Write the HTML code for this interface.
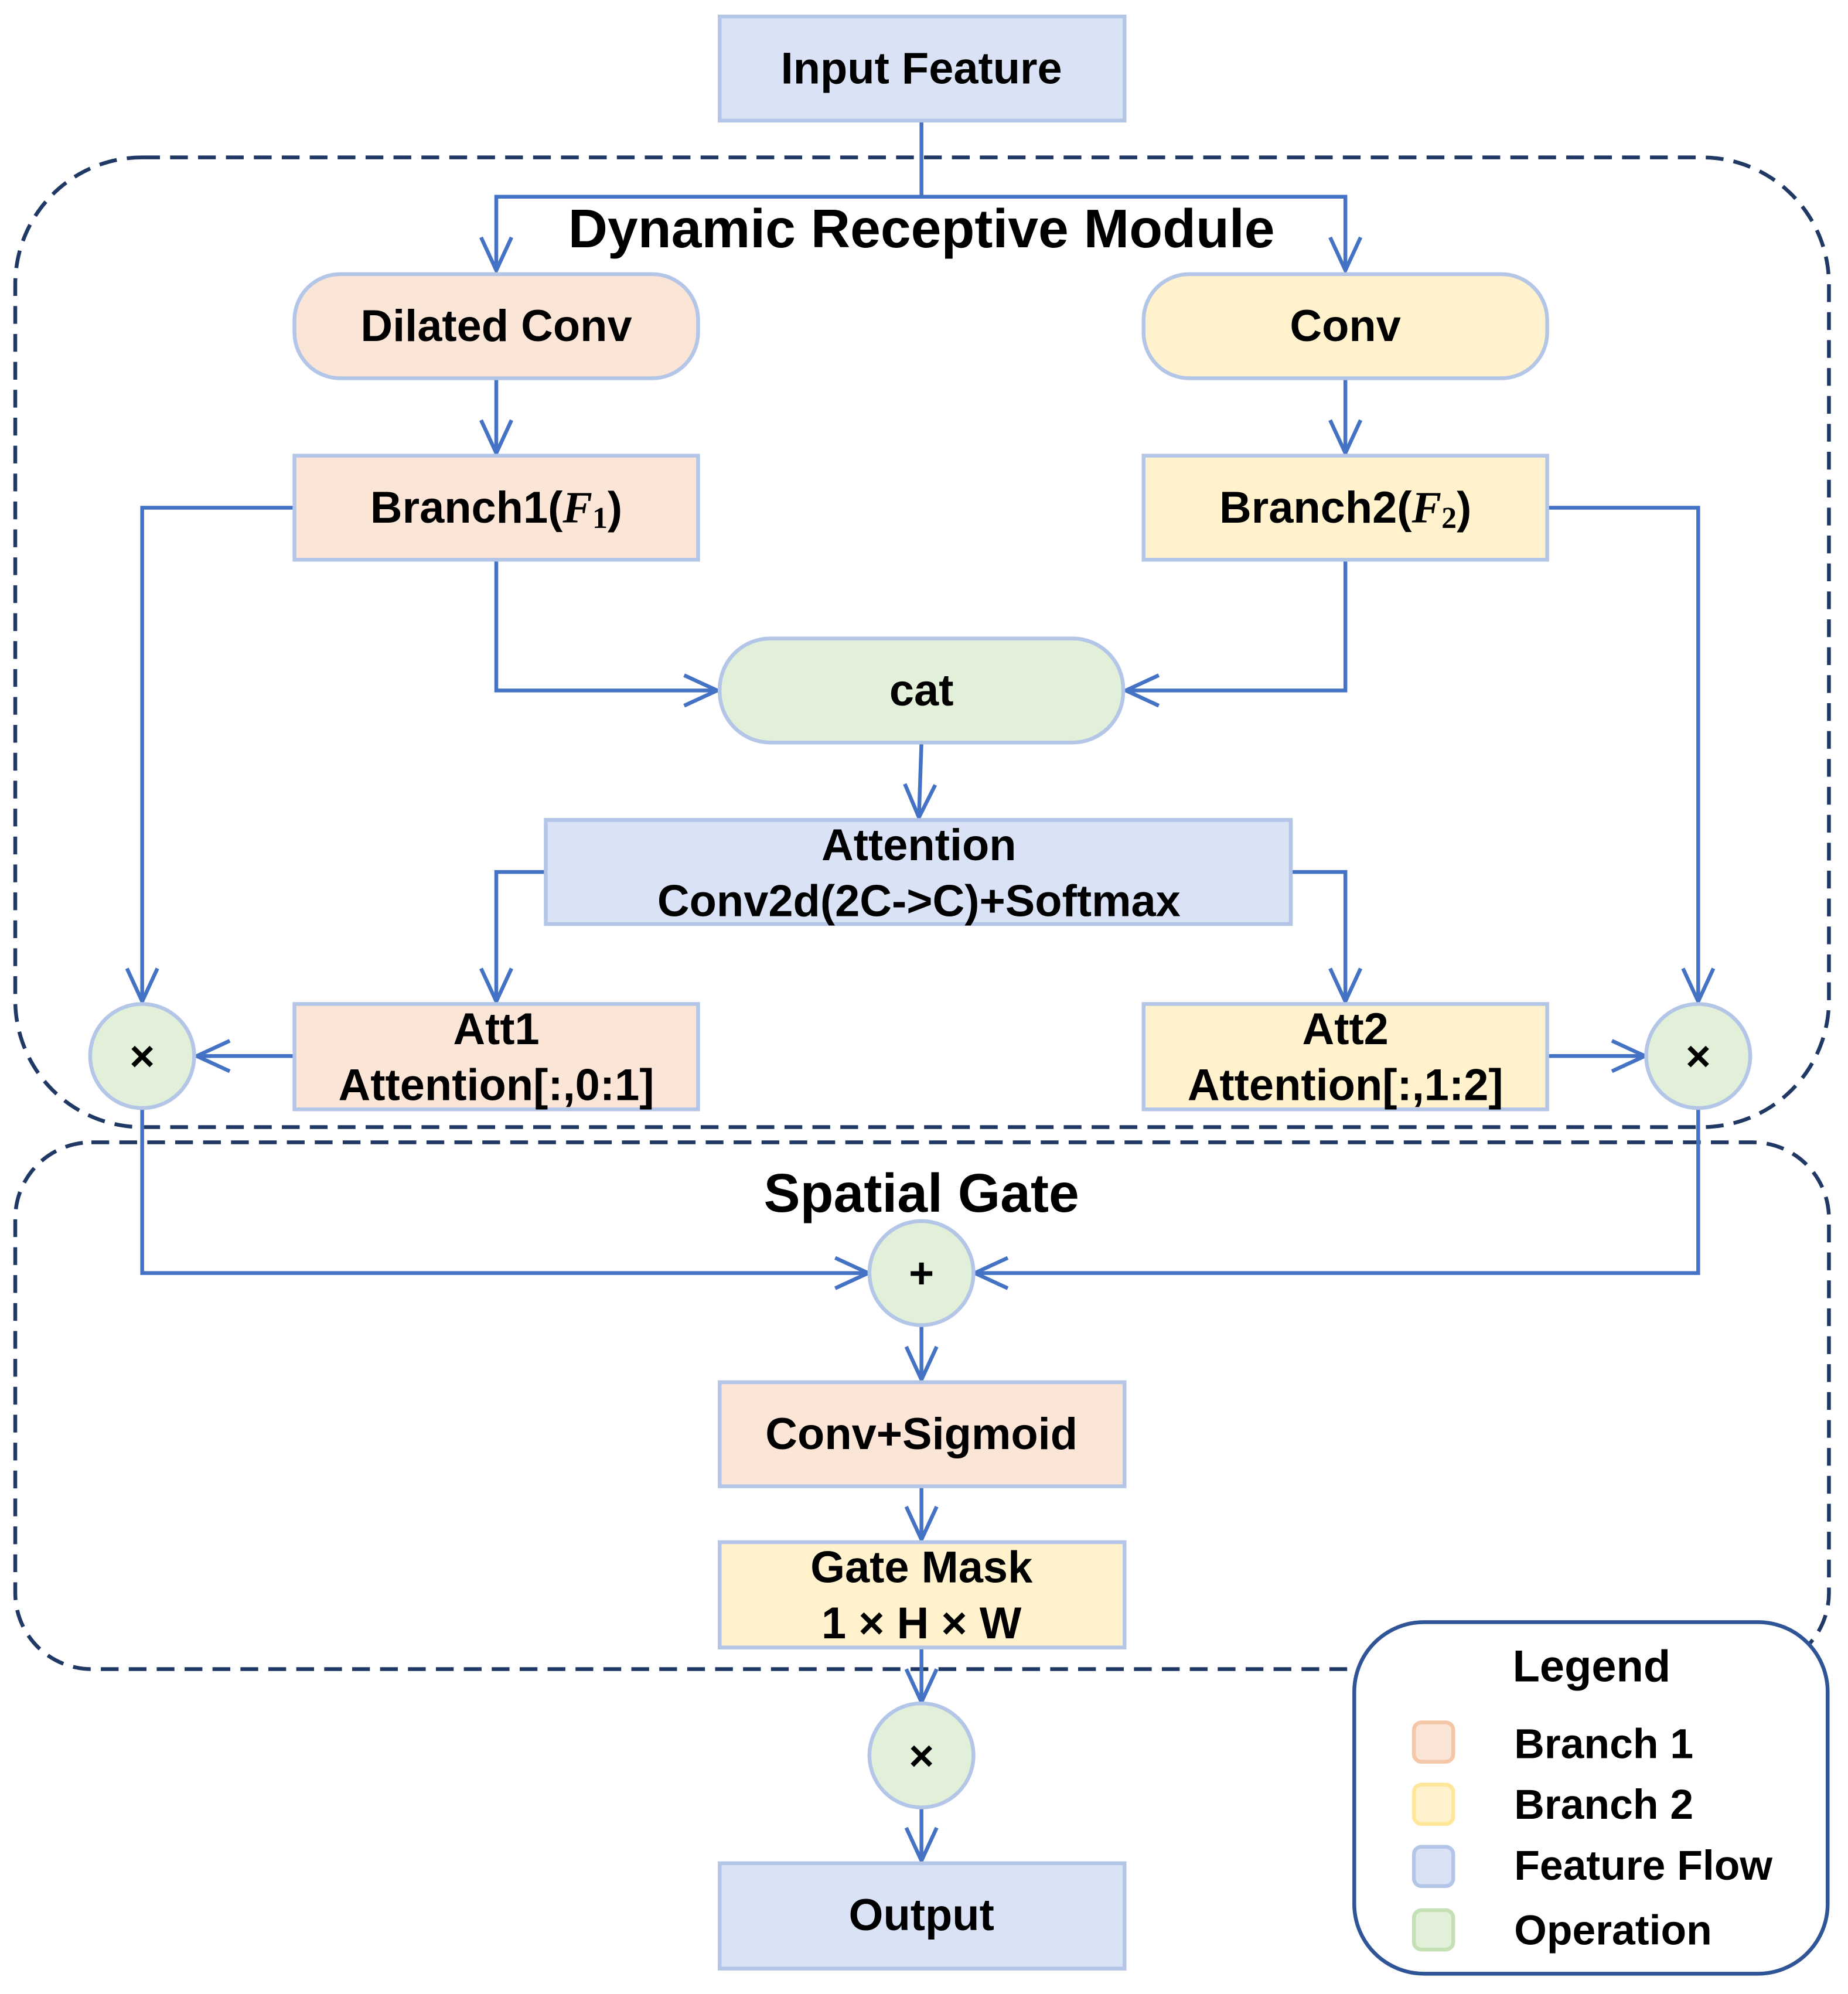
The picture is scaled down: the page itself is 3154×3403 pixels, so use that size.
<!DOCTYPE html>
<html><head><meta charset="utf-8"><style>
html,body{margin:0;padding:0;background:#fff}
svg{display:block}
text{font-family:"Liberation Sans",sans-serif;font-weight:bold;fill:#000;dominant-baseline:central}
.c{text-anchor:middle}
.s{text-anchor:start}
.b{stroke-width:3}
.l{fill:none;stroke:#4472c4;stroke-width:3}
</style></head><body>
<svg width="3154" height="3403" viewBox="0 0 1456 1571" xmlns="http://www.w3.org/2000/svg">
<defs>
<marker id="a" viewBox="0 0 30 30" refX="28" refY="15" markerWidth="30" markerHeight="30" markerUnits="userSpaceOnUse" orient="auto">
<path d="M2,3 L28,15 L2,27" fill="none" stroke="#4472c4" stroke-width="3"/>
</marker>
</defs>
<rect x="12" y="124" width="1429" height="764" rx="100" fill="none" stroke="#1f3864" stroke-width="3" stroke-dasharray="14,8"/>
<rect x="12" y="900" width="1429" height="415" rx="60" fill="none" stroke="#1f3864" stroke-width="3" stroke-dasharray="14,8"/>

<g class="l">
<path d="M726,95 V155 H391 V213" marker-end="url(#a)"/>
<path d="M726,155 H1060 V213" marker-end="url(#a)"/>
<path d="M391,298 V357" marker-end="url(#a)"/>
<path d="M1060,298 V357" marker-end="url(#a)"/>
<path d="M391,441 V544 H565" marker-end="url(#a)"/>
<path d="M1060,441 V544 H887" marker-end="url(#a)"/>
<path d="M726,585 L724,644" marker-end="url(#a)"/>
<path d="M430,687 H391 V789" marker-end="url(#a)"/>
<path d="M1017,687 H1060 V789" marker-end="url(#a)"/>
<path d="M232,400 H112 V789" marker-end="url(#a)"/>
<path d="M1219,400 H1338 V789" marker-end="url(#a)"/>
<path d="M232,832 H155" marker-end="url(#a)"/>
<path d="M1219,832 H1296" marker-end="url(#a)"/>
<path d="M112,873 V1003 H684" marker-end="url(#a)"/>
<path d="M1338,873 V1003 H768" marker-end="url(#a)"/>
<path d="M726,1044 V1087" marker-end="url(#a)"/>
<path d="M726,1171 V1213" marker-end="url(#a)"/>
<path d="M726,1298 V1341" marker-end="url(#a)"/>
<path d="M726,1424 V1466" marker-end="url(#a)"/>
</g>

<g class="b">
<rect x="567" y="13" width="319" height="82" fill="#dae3f5" stroke="#b4c6e7"/>
<rect x="232" y="216" width="318" height="82" rx="36" fill="#fbe5d6" stroke="#b4c6e7"/>
<rect x="901" y="216" width="318" height="82" rx="36" fill="#fff2cc" stroke="#b4c6e7"/>
<rect x="232" y="359" width="318" height="82" fill="#fbe5d6" stroke="#b4c6e7"/>
<rect x="901" y="359" width="318" height="82" fill="#fff2cc" stroke="#b4c6e7"/>
<rect x="567" y="503" width="318" height="82" rx="40" fill="#e2f0d9" stroke="#b4c6e7"/>
<rect x="430" y="646" width="587" height="82" fill="#dae3f5" stroke="#b4c6e7"/>
<rect x="232" y="791" width="318" height="83" fill="#fbe5d6" stroke="#b4c6e7"/>
<rect x="901" y="791" width="318" height="83" fill="#fff2cc" stroke="#b4c6e7"/>
<circle cx="112" cy="832" r="41" fill="#e2f0d9" stroke="#b4c6e7"/>
<circle cx="1338" cy="832" r="41" fill="#e2f0d9" stroke="#b4c6e7"/>
<circle cx="726" cy="1003" r="41" fill="#e2f0d9" stroke="#b4c6e7"/>
<rect x="567" y="1089" width="319" height="82" fill="#fbe5d6" stroke="#b4c6e7"/>
<rect x="567" y="1215" width="319" height="83" fill="#fff2cc" stroke="#b4c6e7"/>
<circle cx="726" cy="1383" r="41" fill="#e2f0d9" stroke="#b4c6e7"/>
<rect x="567" y="1468" width="319" height="83" fill="#dae3f5" stroke="#b4c6e7"/>
</g>

<g font-size="35" class="c">
<text class="c" x="726" y="54">Input Feature</text>
<text class="c" x="726" y="180" font-size="43">Dynamic Receptive Module</text>
<text class="c" x="391" y="257">Dilated Conv</text>
<text class="c" x="1060" y="257">Conv</text>
<text class="c" x="391" y="400">Branch1(<tspan font-family="Liberation Serif,serif" font-style="italic">F</tspan><tspan font-family="Liberation Serif,serif" font-size="24" dy="8">1</tspan><tspan dy="-8">)</tspan></text>
<text class="c" x="1060" y="400">Branch2(<tspan font-family="Liberation Serif,serif" font-style="italic">F</tspan><tspan font-family="Liberation Serif,serif" font-size="24" dy="8">2</tspan><tspan dy="-8">)</tspan></text>
<text class="c" x="726" y="544">cat</text>
<text class="c" x="724" y="666">Attention</text>
<text class="c" x="724" y="710">Conv2d(2C-&gt;C)+Softmax</text>
<text class="c" x="391" y="811">Att1</text>
<text class="c" x="391" y="855">Attention[:,0:1]</text>
<text class="c" x="1060" y="811">Att2</text>
<text class="c" x="1060" y="855">Attention[:,1:2]</text>
<text class="c" x="112" y="832" font-size="34">×</text>
<text class="c" x="1338" y="832" font-size="34">×</text>
<text class="c" x="726" y="940" font-size="43">Spatial Gate</text>
<text class="c" x="726" y="1003" font-size="34">+</text>
<text class="c" x="726" y="1130">Conv+Sigmoid</text>
<text class="c" x="726" y="1235">Gate Mask</text>
<text class="c" x="726" y="1279">1 × H × W</text>
<text class="c" x="726" y="1383" font-size="34">×</text>
<text class="c" x="726" y="1509">Output</text>
</g>

<rect x="1067" y="1278" width="373" height="277" rx="55" fill="#fff" stroke="#2f5597" stroke-width="3"/>
<text class="c" x="1254" y="1313" font-size="35">Legend</text>
<g stroke-width="3">
<rect x="1114" y="1357" width="31" height="31" rx="6" fill="#fbe5d6" stroke="#f4c7a8"/>
<rect x="1114" y="1406" width="31" height="31" rx="6" fill="#fff2cc" stroke="#ffe699"/>
<rect x="1114" y="1455" width="31" height="31" rx="6" fill="#dae3f5" stroke="#b4c6e7"/>
<rect x="1114" y="1505" width="31" height="31" rx="6" fill="#e2f0d9" stroke="#c5e0b4"/>
</g>
<g font-size="33">
<text class="s" x="1193" y="1374">Branch 1</text>
<text class="s" x="1193" y="1422">Branch 2</text>
<text class="s" x="1193" y="1470">Feature Flow</text>
<text class="s" x="1193" y="1521">Operation</text>
</g>
</svg>
</body></html>
